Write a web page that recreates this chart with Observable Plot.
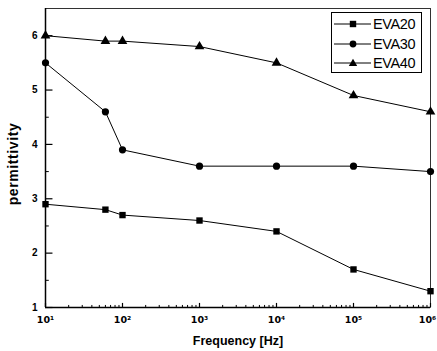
<!DOCTYPE html>
<html>
<head>
<meta charset="utf-8">
<script src="https://cdn.jsdelivr.net/npm/d3@7"></script>
<script src="https://cdn.jsdelivr.net/npm/@observablehq/plot@0.6"></script>
<style>
  html, body { margin: 0; padding: 0; background: #fff; }
  #wrap { position: relative; width: 437px; height: 351px; }
  #legend { position: absolute; left: 331px; top: 12px; width: 91px; height: 61px;
    border: 1px solid #000; background: #fff; box-sizing: border-box;
    font-family: "Liberation Sans", Arial, sans-serif; font-size: 14.5px; color: #000; }
  .row { position: absolute; left: 0; height: 20px; display: flex; align-items: center; }
  .row svg { display: block; }
  .row span { margin-left: 1px; letter-spacing: -0.4px; }
  #ylabel { position: absolute; left: 13px; top: 164px; transform: translate(-50%, -50%) rotate(-90deg);
    font-family: "Liberation Sans", Arial, sans-serif; font-weight: bold; font-size: 14px;
    letter-spacing: 0.6px; white-space: nowrap; color: #000; line-height: 1; }
</style>
</head>
<body>
<div id="wrap"></div>
<script>
const freq = [10, 60, 100, 1000, 10000, 100000, 1000000];
const eva20 = [2.9, 2.8, 2.7, 2.6, 2.4, 1.7, 1.3];
const eva30 = [5.5, 4.6, 3.9, 3.6, 3.6, 3.6, 3.5];
const eva40 = [6.0, 5.9, 5.9, 5.8, 5.5, 4.9, 4.6];
const seriesNames = ["EVA20", "EVA30", "EVA40"];
const seriesSymbols = ["square", "circle", "triangle"];
const xTicks = [10, 100, 1000, 10000, 100000, 1000000];
const xTickLabels = ["10¹", "10²", "10³", "10⁴", "10⁵", "10⁶"];
const yTicks = [1, 2, 3, 4, 5, 6];
const yTickLabels = ["1", "2", "3", "4", "5", "6"];
const yMinorTicks = [1.5, 2.5, 3.5, 4.5, 5.5];
const yLabel = "permittivity";
const xLabel = "Frequency [Hz]";

const seriesValues = [eva20, eva30, eva40];
const data = seriesNames.flatMap((name, i) =>
  freq.map((f, j) => ({series: name, symbol: seriesSymbols[i], f, v: seriesValues[i][j]})));

const xMinor = [];
for (let e = 1; e < 6; e++) for (let k = 2; k <= 9; k++) xMinor.push(k * 10 ** e);

const yDomain = [1, 6.5];
const tickLen = 0.075; // in y units (~4px)
const xLabelOpts = {tickSize: 0, tickPadding: 9, fontSize: 9.5, fontWeight: "bold",
  fontFamily: "'DejaVu Sans', sans-serif",
  tickFormat: d => xTickLabels[xTicks.indexOf(d)], label: null};

const chart = Plot.plot({
  width: 437,
  height: 351,
  marginLeft: 45,
  marginRight: 7,
  marginTop: 8,
  marginBottom: 44,
  x: {type: "log", domain: [10, 1000000]},
  y: {domain: yDomain},
  style: {fontFamily: "'Liberation Sans', Arial, sans-serif", color: "#000", background: "#fff"},
  marks: [
    Plot.frame({stroke: "#000", strokeWidth: 0.8}),
    Plot.ruleY([1], {stroke: "#000", strokeWidth: 1.5}),
    Plot.ruleX([10], {stroke: "#000", strokeWidth: 1.5}),
    Plot.ruleX(xTicks, {x: d => d, y1: 1, y2: 1 + tickLen, stroke: "#000", strokeWidth: 1.2}),
    Plot.ruleX(xMinor, {x: d => d, y1: 1, y2: 1 + tickLen / 2, stroke: "#000", strokeWidth: 1}),
    Plot.axisX({...xLabelOpts, ticks: xTicks.slice(0, 5)}),
    Plot.axisX({...xLabelOpts, ticks: xTicks.slice(5), dx: -3}),
    Plot.axisY({ticks: yTicks, tickSize: 0, tickPadding: 8, fontSize: 10, fontWeight: "bold",
      tickFormat: d => yTickLabels[yTicks.indexOf(d)], label: null}),
    Plot.ruleY(yTicks, {y: d => d, x1: 10, x2: 12.5, stroke: "#000", strokeWidth: 1.2}),
    Plot.ruleY(yMinorTicks, {y: d => d, x1: 10, x2: 11.2, stroke: "#000", strokeWidth: 1}),
    Plot.line(data, {x: "f", y: "v", z: "series", stroke: "#000", strokeWidth: 1}),
    Plot.dot(data, {x: "f", y: "v", symbol: "symbol", fill: "#000", stroke: "none", r: 3.6}),
    Plot.text([xLabel], {frameAnchor: "bottom", dy: 37, fontSize: 12.5, fontWeight: "bold",
      letterSpacing: 0.8})
  ]
});
document.getElementById("wrap").appendChild(chart);

const yl = document.createElement("div");
yl.id = "ylabel";
yl.textContent = yLabel;
document.getElementById("wrap").appendChild(yl);

// Legend
const legend = document.createElement("div");
legend.id = "legend";
const symbolPaths = {
  square: "M-3.2,-3.2h6.4v6.4h-6.4z",
  triangle: "M0,-4.2L4.2,3L-4.2,3z"
};
seriesNames.forEach((name, i) => {
  const row = document.createElement("div");
  row.className = "row";
  row.style.top = (1 + i * 19.5) + "px";
  const sym = seriesSymbols[i];
  const shape = sym === "circle"
    ? `<circle cx="21" cy="10" r="3.4" fill="#000"/>`
    : `<path transform="translate(21,10)" d="${symbolPaths[sym]}" fill="#000"/>`;
  row.innerHTML = `<svg width="40" height="20"><line x1="2" x2="39" y1="10" y2="10" stroke="#000" stroke-width="1"/>${shape}</svg><span>${name}</span>`;
  legend.appendChild(row);
});
document.getElementById("wrap").appendChild(legend);
</script>
</body>
</html>
